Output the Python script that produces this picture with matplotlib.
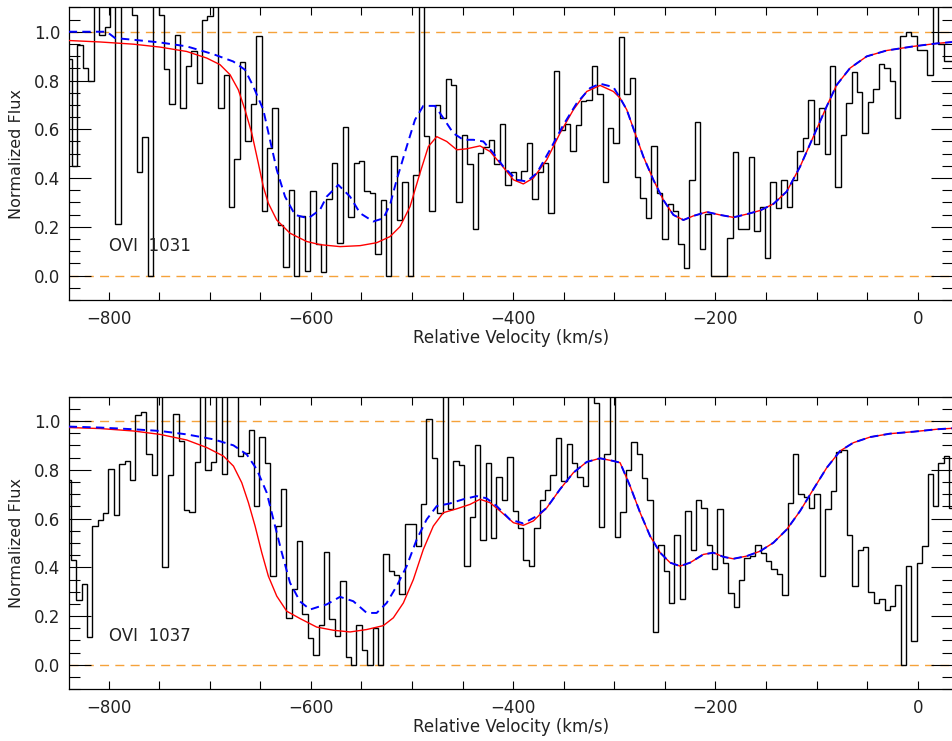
import numpy as np
import matplotlib
matplotlib.use('Agg')
import matplotlib.pyplot as plt
from matplotlib.ticker import MultipleLocator, FormatStrFormatter

plt.rcParams['font.family'] = ['DejaVu Sans']

# ---------------- data: binned spectra (flux per velocity bin) ----------------
# OVI 1031: first bin edge and bin width (km/s)
v0_1031 = -841.55
dv_1031 = 5.353
flux_1031 = [
    0.888, 0.45, 0.945, 0.85, 0.80, 1.25, 0.986, 1.02, 1.25, 0.21,
    1.25, 1.12, 1.07, 0.424, 0.57, 0.0, 1.25, 1.07, 0.847, 0.703,
    0.986, 0.687, 0.858, 0.922, 0.791, 1.05, 1.063, 1.25, 0.687, 0.824,
    0.283, 0.477, 0.874, 0.553, 0.703, 0.984, 0.265, 0.525, 0.687, 0.207,
    0.034, 0.352, 0.0, 0.245, 0.02, 0.347, 0.129, 0.016, 0.313, 0.461,
    0.133, 0.609, 0.239, 0.461, 0.468, 0.345, 0.338, 0.088, 0.31, 0.0,
    0.491, 0.228, 0.382, 0.0, 0.414, 1.25, 0.573, 0.265, 0.699, 0.646,
    0.807, 0.782, 0.301, 0.575, 0.458, 0.19, 0.502, 0.529, 0.557, 0.458,
    0.622, 0.372, 0.423, 0.393, 0.427, 0.543, 0.313, 0.423, 0.461, 0.256,
    0.84, 0.598, 0.622, 0.512, 0.618, 0.714, 0.721, 0.858, 0.744, 0.382,
    0.605, 0.543, 0.977, 0.744, 0.81, 0.404, 0.317, 0.235, 0.532, 0.338,
    0.15, 0.293, 0.267, 0.129, 0.03, 0.393, 0.628, 0.108, 0.252, 0.0,
    0.0, 0.0, 0.156, 0.505, 0.19, 0.19, 0.486, 0.183, 0.28, 0.074,
    0.382, 0.276, 0.393, 0.283, 0.393, 0.512, 0.564, 0.721, 0.539, 0.689,
    0.498, 0.858, 0.362, 0.576, 0.707, 0.833, 0.751, 0.584, 0.71, 0.765,
    0.867, 0.851, 0.799, 0.648, 0.984, 0.997, 0.984, 0.926, 0.926, 0.823,
    1.25, 0.95, 0.88, 0.88]

# OVI 1037
v0_1037 = -842.83
dv_1037 = 5.329
flux_1037 = [
    0.759, 0.431, 0.267, 0.332, 0.114, 0.57, 0.595, 0.622, 0.803, 0.616,
    0.825, 0.837, 0.759, 1.026, 1.037, 0.866, 0.777, 1.25, 0.40, 0.78,
    1.029, 0.917, 0.636, 0.627, 0.832, 1.25, 0.798, 0.83, 1.25, 0.782,
    1.25, 1.25, 0.858, 0.869, 0.964, 0.65, 0.934, 0.828, 0.363, 0.568,
    0.722, 0.194, 0.311, 0.506, 0.209, 0.109, 0.041, 0.164, 0.461, 0.187,
    0.12, 0.345, 0.034, 0.0, 0.164, 0.062, 0.0, 0.15, 0.0, 0.454,
    0.383, 0.369, 0.29, 0.579, 0.579, 0.486, 0.659, 1.008, 0.848, 0.622,
    1.25, 0.64, 0.834, 0.818, 0.404, 0.605, 0.90, 0.51, 0.828, 0.52,
    0.772, 0.674, 0.852, 0.632, 0.561, 0.431, 0.404, 0.561, 0.677, 0.715,
    0.78, 0.93, 0.752, 0.907, 0.828, 0.77, 0.732, 1.25, 1.074, 0.564,
    0.866, 1.25, 0.523, 0.627, 0.80, 0.914, 0.866, 0.768, 0.677, 0.134,
    0.492, 0.386, 0.253, 0.534, 0.27, 0.632, 0.469, 0.677, 0.643, 0.492,
    0.394, 0.64, 0.417, 0.294, 0.239, 0.349, 0.438, 0.447, 0.492, 0.458,
    0.424, 0.393, 0.374, 0.285, 0.663, 0.866, 0.70, 0.687, 0.643, 0.70,
    0.365, 0.64, 0.711, 0.871, 0.882, 0.534, 0.324, 0.469, 0.482, 0.30,
    0.253, 0.271, 0.226, 0.242, 0.328, 0.0, 0.406, 0.098, 0.417, 0.486,
    0.782, 0.651, 0.829, 0.856, 0.644]

# ---------------- model fits ----------------
# common tail of both 1031 fits (the two models agree redward of ~-290 km/s)
tail_v_1031 = [-287.7, -279.5, -271.3, -261.4, -251.5, -241.6, -231.7, -221.8, -208.6,
               -195.5, -182.3, -169.1, -155.9, -142.7, -129.5, -116.3, -103.2, -90.0,
               -80.1, -66.9, -50.4, -30.7, -4.3, 18.8, 34.6]
tail_f_1031 = [0.68, 0.584, 0.488, 0.393, 0.31, 0.249, 0.228, 0.245, 0.261,
               0.249, 0.239, 0.252, 0.267, 0.294, 0.345, 0.447, 0.57, 0.694,
               0.782, 0.851, 0.899, 0.923, 0.94, 0.952, 0.958]

red_v_1031 = [-839.5, -808.5, -775.6, -749.2, -722.8, -703.0, -689.9, -680.0, -671.8,
              -665.2, -658.5, -652.0, -647.1, -642.1, -633.8, -620.7, -604.2, -591.0,
              -571.2, -551.4, -535.0, -521.8, -511.9, -502.0, -492.2, -483.9, -475.6,
              -465.7, -455.8, -446.0, -432.8, -422.9, -413.0, -399.8, -390.0, -380.1,
              -366.8, -353.7, -340.5, -327.3, -314.1, -300.9, -294.3]
red_f_1031 = [0.964, 0.958, 0.949, 0.937, 0.919, 0.892, 0.865, 0.824, 0.762,
              0.68, 0.584, 0.461, 0.365, 0.297, 0.228, 0.174, 0.14, 0.127,
              0.119, 0.123, 0.135, 0.16, 0.201, 0.283, 0.42, 0.529, 0.57,
              0.55, 0.516, 0.52, 0.532, 0.509, 0.461, 0.393, 0.376, 0.40,
              0.475, 0.584, 0.68, 0.755, 0.78, 0.755, 0.728]

blue_v_1031 = [-839.5, -801.9, -793.7, -775.6, -749.2, -722.8, -696.6, -676.8, -665.2,
               -657.0, -647.1, -640.5, -633.8, -625.6, -615.7, -602.6, -591.0, -584.4,
               -572.9, -561.3, -551.4, -538.3, -528.4, -521.8, -515.2, -505.3, -497.1,
               -488.9, -477.3, -469.1, -459.2, -449.3, -439.4, -429.5, -419.6, -409.7,
               -396.5, -386.6, -376.7, -363.6, -350.4, -337.2, -324.0, -314.1, -300.9,
               -294.3]
blue_f_1031 = [1.0, 1.0, 0.974, 0.967, 0.956, 0.94, 0.908, 0.878, 0.844,
               0.776, 0.68, 0.557, 0.434, 0.324, 0.249, 0.235, 0.27, 0.324,
               0.372, 0.324, 0.256, 0.222, 0.235, 0.29, 0.393, 0.529, 0.639,
               0.696, 0.696, 0.646, 0.584, 0.557, 0.557, 0.55, 0.502, 0.447,
               0.393, 0.386, 0.42, 0.516, 0.618, 0.707, 0.769, 0.787, 0.773,
               0.728]

tail_v_1037 = [-366.8, -353.7, -340.5, -327.3, -314.1, -300.9, -294.3, -284.4, -274.5,
               -264.6, -254.7, -244.8, -235.0, -225.1, -211.9, -202.0, -192.2, -182.3,
               -169.1, -155.9, -142.7, -129.5, -116.3, -103.2, -90.0, -76.8, -63.6,
               -47.1, -27.4, -4.3, 18.8, 34.6]
tail_f_1037 = [0.644, 0.72, 0.788, 0.832, 0.847, 0.836, 0.829, 0.733, 0.624,
               0.528, 0.46, 0.419, 0.405, 0.419, 0.453, 0.46, 0.443, 0.435,
               0.446, 0.466, 0.501, 0.555, 0.631, 0.72, 0.808, 0.877, 0.911,
               0.934, 0.948, 0.956, 0.966, 0.97]

red_v_1037 = [-839.5, -808.5, -775.6, -749.2, -722.8, -703.0, -686.5, -676.6, -668.4,
              -661.8, -655.2, -648.6, -642.1, -633.8, -623.9, -610.8, -594.3, -577.8,
              -561.3, -544.8, -528.4, -518.5, -508.6, -498.7, -488.9, -479.0, -469.1,
              -455.8, -442.7, -432.8, -422.9, -413.0, -399.8, -390.0, -380.1]
red_f_1037 = [0.973, 0.969, 0.959, 0.945, 0.922, 0.891, 0.856, 0.815, 0.747,
              0.665, 0.569, 0.46, 0.364, 0.282, 0.22, 0.19, 0.155, 0.142,
              0.135, 0.145, 0.161, 0.193, 0.254, 0.35, 0.473, 0.569, 0.624,
              0.64, 0.658, 0.679, 0.665, 0.631, 0.583, 0.572, 0.59]

blue_v_1037 = [-839.5, -808.5, -775.6, -749.2, -722.8, -696.6, -676.6, -663.5, -653.6,
               -643.7, -637.1, -628.8, -620.7, -610.8, -600.8, -592.6, -584.4, -571.2,
               -558.1, -544.8, -535.0, -525.1, -515.2, -505.3, -495.4, -485.6, -475.6,
               -462.5, -449.3, -436.1, -426.3, -416.3, -403.2, -390.0, -376.7]
blue_f_1037 = [0.977, 0.973, 0.966, 0.959, 0.945, 0.925, 0.90, 0.863, 0.802,
               0.706, 0.596, 0.46, 0.337, 0.26, 0.227, 0.238, 0.248, 0.279,
               0.261, 0.213, 0.213, 0.254, 0.323, 0.405, 0.514, 0.596, 0.651,
               0.662, 0.679, 0.692, 0.683, 0.651, 0.596, 0.58, 0.61]

panels = [
    ('OVI  1031', v0_1031, dv_1031, flux_1031,
     red_v_1031 + tail_v_1031, red_f_1031 + tail_f_1031,
     blue_v_1031 + tail_v_1031, blue_f_1031 + tail_f_1031),
    ('OVI  1037', v0_1037, dv_1037, flux_1037,
     red_v_1037 + tail_v_1037, red_f_1037 + tail_f_1037,
     blue_v_1037 + tail_v_1037, blue_f_1037 + tail_f_1037),
]

fig = plt.figure(figsize=(9.53, 7.41), dpi=100)
axes_pos = [[0.0721, 0.5951, 0.9276, 0.395],
            [0.0721, 0.0698, 0.9276, 0.395]]

txt_col = '#222222'
for pos, (label, v0, dv, flux, rv, rf, bv, bf) in zip(axes_pos, panels):
    ax = fig.add_axes(pos)
    edges = v0 + dv * np.arange(len(flux) + 1)

    # continuum and zero level
    for lev in (0.0, 1.0):
        ax.axhline(lev, color='#f5a23a', lw=1.0, dashes=(6.5, 4.5), zorder=1)

    ax.stairs(flux, edges, baseline=None, color='black', lw=1.0, zorder=2)
    ax.plot(rv, rf, color='red', lw=1.0, zorder=3)
    ax.plot(bv, bf, color='blue', lw=1.4, dashes=(4.3, 2.7), zorder=4)

    ax.text(-800, 0.12, label, fontsize=12, va='center', ha='left', color=txt_col)

    ax.set_xlim(-839.5, 34.6)
    ax.set_ylim(-0.1, 1.1)
    ax.xaxis.set_major_locator(MultipleLocator(200))
    ax.xaxis.set_minor_locator(MultipleLocator(50))
    ax.yaxis.set_major_locator(MultipleLocator(0.2))
    ax.yaxis.set_minor_locator(MultipleLocator(0.05))
    ax.yaxis.set_major_formatter(FormatStrFormatter('%.1f'))
    ax.tick_params(axis='x', which='both', direction='in', top=True, bottom=True,
                   length=6, width=0.8, labelsize=12, pad=7, labelcolor=txt_col)
    ax.tick_params(axis='y', which='major', direction='in', left=True, right=True,
                   length=16, width=0.8, labelsize=12, pad=6, labelcolor=txt_col)
    ax.tick_params(axis='y', which='minor', direction='in', left=True, right=True,
                   length=8, width=0.8)
    for sp in ax.spines.values():
        sp.set_linewidth(0.9)
    ax.set_xlabel('Relative Velocity (km/s)', fontsize=12, labelpad=1, color=txt_col)
    ax.set_ylabel('Normalized Flux', fontsize=11.5, labelpad=7, color=txt_col)

fig.savefig('out.png', dpi=100)
